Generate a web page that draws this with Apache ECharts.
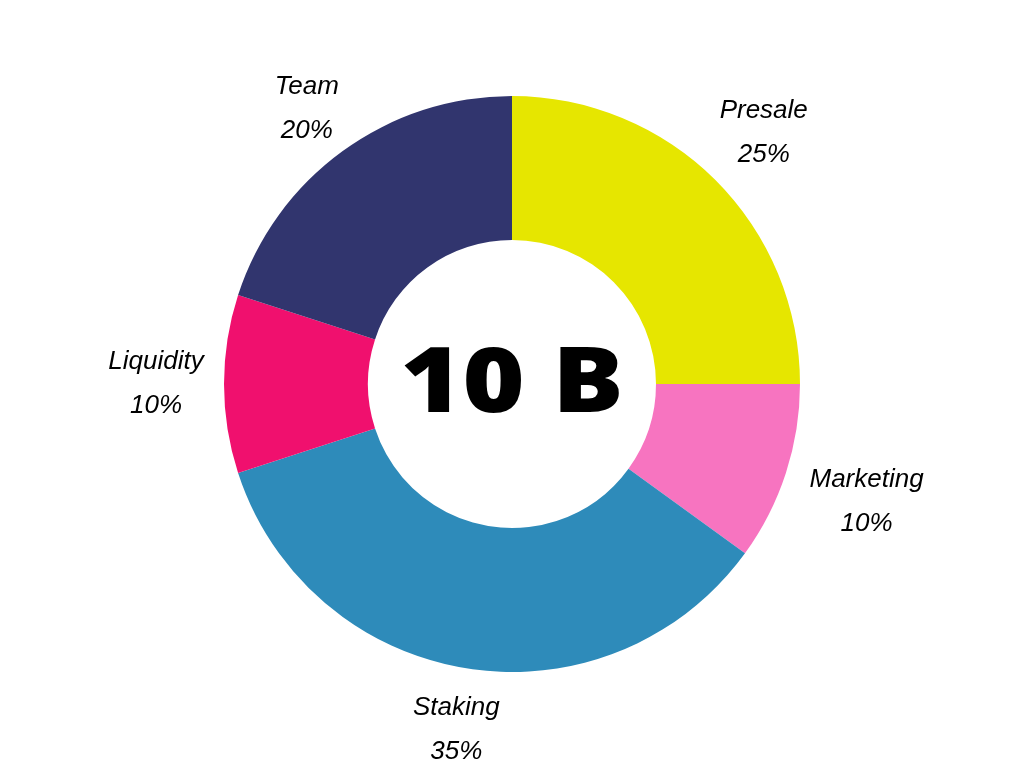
<!DOCTYPE html>
<html>
<head>
<meta charset="utf-8">
<script src="https://cdn.jsdelivr.net/npm/echarts@6/dist/echarts.min.js"></script>
<style>html,body{margin:0;padding:0;background:#fff}#c{width:1024px;height:768px}</style>
</head>
<body>
<div id="c"></div>
<script>
const categories = ['Presale', 'Marketing', 'Staking', 'Liquidity', 'Team'];
const values = [25, 10, 35, 10, 20];
const colors = ['#E6E600', '#F774C0', '#2E8BBA', '#F0106E', '#31356E'];
const centerText = '10 B';

const chart = echarts.init(document.getElementById('c'));
const mainData = categories.map((n, i) => ({ name: n, value: values[i], itemStyle: { color: colors[i] } }));
const labelStyleByName = {
  Marketing: { offset: [16, 8] },
  Staking: { offset: [0, -6] },
  Team: { offset: [4, 13] }
};
const labelData = categories.map((n, i) => ({ name: n, value: values[i], label: labelStyleByName[n] || {} }));

chart.setOption({
  backgroundColor: '#ffffff',
  animation: false,
  series: [
    {
      type: 'pie',
      center: [512, 384],
      radius: [144, 288],
      startAngle: 90,
      clockwise: true,
      silent: true,
      label: { show: false },
      labelLine: { show: false },
      itemStyle: { borderWidth: 0 },
      data: mainData
    },
    {
      type: 'pie',
      center: [512, 384],
      radius: [330, 376],
      startAngle: 90,
      clockwise: true,
      silent: true,
      itemStyle: { color: 'rgba(0,0,0,0)', borderWidth: 0 },
      label: {
        show: true,
        position: 'inside',
        formatter: '{b}\n{d}%',
        color: '#000',
        fontFamily: 'Liberation Sans',
        fontStyle: 'italic',
        fontSize: 26,
        lineHeight: 44
      },
      labelLine: { show: false },
      data: labelData
    }
  ],
  graphic: [{
    type: 'text',
    x: 512,
    y: 386,
    scaleX: 1.18,
    style: {
      text: centerText,
      fontFamily: 'Open Sans',
      fontWeight: 800,
      fontSize: 90,
      fill: '#000',
      align: 'center',
      verticalAlign: 'middle'
    }
  }]
});
</script>
</body>
</html>
